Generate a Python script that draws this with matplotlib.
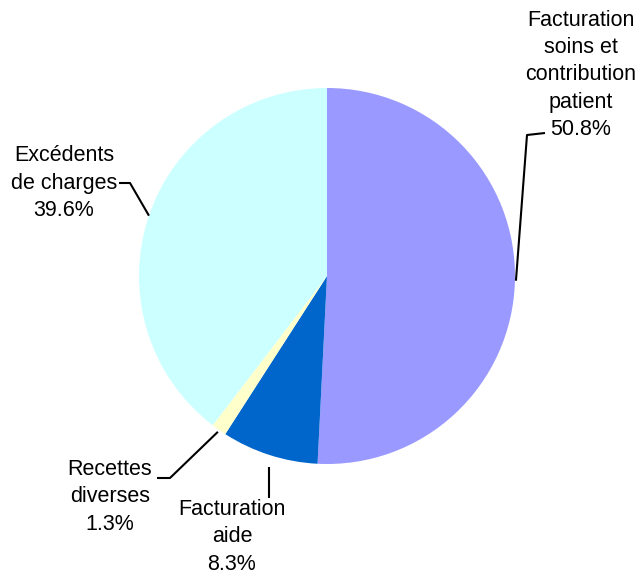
import numpy as np
import matplotlib
matplotlib.use("Agg")
import matplotlib.pyplot as plt

labels = ["Facturation\nsoins et\ncontribution\npatient", "Facturation\naide",
          "Recettes\ndiverses", "Excédents\nde charges"]
values = [50.8, 8.3, 1.3, 39.6]
colors = ["#9999FF", "#0066CC", "#FFFFCC", "#CCFFFF"]

W, H = 638, 576
fig = plt.figure(figsize=(W / 100, H / 100), dpi=100)
ax = fig.add_axes([0, 0, 1, 1])

cx, cy, R = 327, H - 276, 188
wedges, _ = ax.pie(values, colors=colors, startangle=90, counterclock=False,
                   center=(cx, cy), radius=R, wedgeprops=dict(linewidth=0),
                   frame=True)
ax.set_xlim(0, W)
ax.set_ylim(0, H)
ax.set_aspect("equal")
ax.axis("off")

# label text positions (layout)
text_pos = [(581, H - 75), (232, H - 537), (110, H - 497), (64, H - 183)]
fs = 15.5
tot = sum(values)
cum = 0
for i, v in enumerate(values):
    mid = 90 - (cum + v / 2) / tot * 360
    cum += v
    a = np.deg2rad(mid)
    ex, ey = cx + R * np.cos(a), cy + R * np.sin(a)
    tx, ty = text_pos[i]
    txt = f"{labels[i]}\n{v:.1f}%"
    ax.text(tx, ty, txt, ha="center", va="center", fontsize=fs,
            family="Liberation Sans", linespacing=1.38, color="black")
    if i == 0:
        xs = [ex + 1, 527, 545]
        ys = [ey, H - 135, H - 133]
    elif i == 1:
        xs = [ex, ex]
        ys = [H - 467, H - 498]
    elif i == 2:
        xs = [ex - 1, 170, 157]
        ys = [ey - 2, H - 478, H - 478]
    else:
        xs = [ex, 130, 119]
        ys = [ey, H - 183, H - 183]
    ax.plot(xs, ys, color="black", lw=1.5, solid_capstyle="butt")

fig.savefig("out.png", dpi=100)
